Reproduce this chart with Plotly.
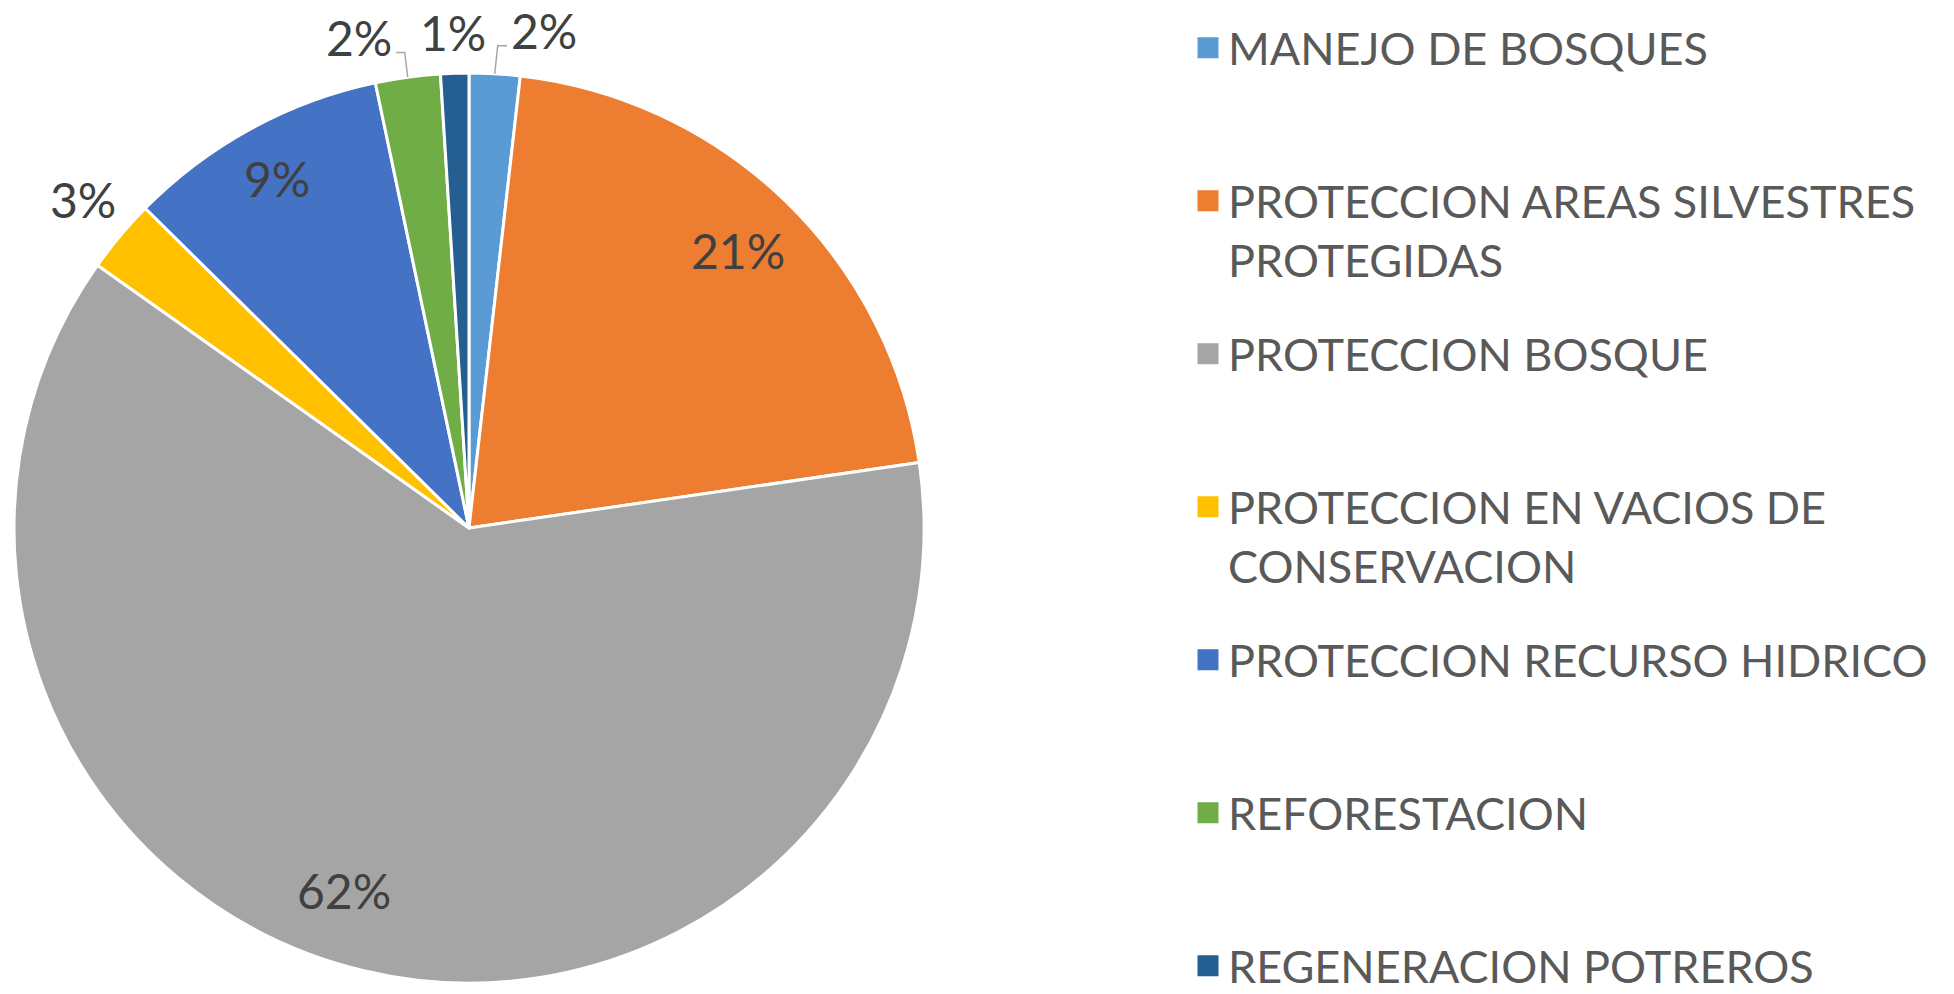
import math
import plotly.graph_objects as go

categories = [
    "MANEJO DE BOSQUES",
    "PROTECCION AREAS SILVESTRES PROTEGIDAS",
    "PROTECCION BOSQUE",
    "PROTECCION EN VACIOS DE CONSERVACION",
    "PROTECCION RECURSO HIDRICO",
    "REFORESTACION",
    "REGENERACION POTREROS",
]
legend_text = [
    "MANEJO DE BOSQUES",
    "PROTECCION AREAS SILVESTRES<br>PROTEGIDAS",
    "PROTECCION BOSQUE",
    "PROTECCION EN VACIOS DE<br>CONSERVACION",
    "PROTECCION RECURSO HIDRICO",
    "REFORESTACION",
    "REGENERACION POTREROS",
]
values = [1.8, 20.9, 62.1, 2.6, 9.3, 2.3, 1.0]
colors = ["#5B9BD5", "#ED7D31", "#A5A5A5", "#FFC000", "#4472C4", "#70AD47", "#255E91"]
label_inside = [False, True, True, False, True, False, False]

# layout / style settings (not data)
FONT = "Lato, 'Open Sans', sans-serif"
W, H = 1954, 994
PIE_L, PIE_R, PIE_B, PIE_T = 14, 924, 11, 921      # pie box in px (from left / bottom)
INSIDE_R, OUTSIDE_R = 0.85, 1.09                    # label radius as share of pie radius
label_shift = [(47, 3), (0, 0), (-35, 14), (-6, 10), (-7, 11), (-43, 0), (0, 0)]  # px nudges (x right, y up)
leader = [True, False, False, False, False, True, False]
LABEL_SIZE = 48

fig = go.Figure()
fig.add_trace(go.Pie(
    labels=categories,
    values=values,
    sort=False,
    direction="clockwise",
    rotation=0,
    marker=dict(colors=colors, line=dict(color="white", width=3)),
    textinfo="none",
    showlegend=False,
    domain=dict(x=[PIE_L / W, PIE_R / W], y=[PIE_B / H, PIE_T / H]),
    hoverinfo="label+percent",
))

# data labels placed at the middle angle of each slice
total = sum(values)
cx = (PIE_L + PIE_R) / 2
cy = (PIE_B + PIE_T) / 2
R = min(PIE_R - PIE_L, PIE_T - PIE_B) / 2
cum = 0.0
for v, inside, (sx, sy), lead in zip(values, label_inside, label_shift, leader):
    mid = 2 * math.pi * (cum + v / 2) / total
    cum += v
    r = R * (INSIDE_R if inside else OUTSIDE_R)
    px = cx + r * math.sin(mid) + sx
    py = cy + r * math.cos(mid) + sy
    fig.add_annotation(
        x=px / W, y=py / H, xref="paper", yref="paper",
        text=f"{round(100 * v / total)}%", showarrow=False,
        xanchor="center", yanchor="middle", height=56,
        font=dict(family=FONT, size=LABEL_SIZE, color="#404040"),
    )
    if lead:
        ex = cx + R * math.sin(mid)
        ey = cy + R * math.cos(mid)
        side = 1 if sx > 0 else -1
        ky = py - 16
        kx = px - side * 37
        fig.add_shape(
            type="path", xref="paper", yref="paper",
            path=f"M {ex / W},{ey / H} L {(ex + side * 3) / W},{ky / H} L {kx / W},{ky / H}",
            line=dict(color="#A6A6A6", width=1.5),
        )

# legend entries (one group each so they can be spaced evenly)
for i, (name, col) in enumerate(zip(legend_text, colors)):
    if "<br>" not in name and i < len(legend_text) - 1:
        name = name + "<br>&nbsp;"
    fig.add_trace(go.Scatter(
        x=[None], y=[None], mode="markers",
        marker=dict(symbol="square", size=16, color=col, line=dict(color=col, width=5)),
        name=name, legendgroup=f"g{i}", showlegend=True,
        hoverinfo="skip",
    ))

fig.update_layout(
    width=W, height=H,
    margin=dict(l=0, r=0, t=0, b=0, autoexpand=False),
    paper_bgcolor="white", plot_bgcolor="white",
    xaxis=dict(visible=False), yaxis=dict(visible=False),
    legend=dict(
        x=1188 / W, xanchor="left", y=1 - 12 / H, yanchor="top",
        font=dict(family=FONT, size=45, color="#595959"),
        valign="top", tracegroupgap=33, itemsizing="trace",
        bgcolor="rgba(0,0,0,0)",
    ),
)
fig.write_html(
    "out.html",
    config={"displayModeBar": False},
    post_script="document.body.style.margin='0px';document.body.style.overflow='hidden';",
)
